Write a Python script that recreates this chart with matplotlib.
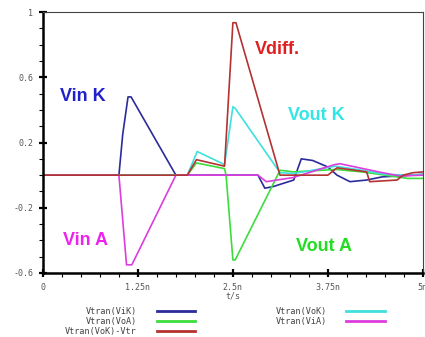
import matplotlib.pyplot as plt
from matplotlib.ticker import MultipleLocator

# Vin K
t_vik = [0, 1.0, 1.05, 1.12, 1.16, 1.75, 2.83, 2.92, 3.03, 3.3, 3.4, 3.55, 3.75, 3.87, 4.04, 4.26, 4.47, 4.7, 5.0]
v_vik = [0, 0, 0.25, 0.48, 0.48, 0, 0, -0.08, -0.07, -0.03, 0.1, 0.09, 0.05, 0, -0.04, -0.03, -0.01, -0.005, 0.005]
# Vin A
t_via = [0, 1.0, 1.1, 1.17, 1.75, 2.83, 2.94, 3.29, 3.84, 3.91, 4.47, 4.7, 5.0]
v_via = [0, 0, -0.55, -0.55, 0, 0, -0.04, -0.015, 0.065, 0.07, 0.015, -0.005, 0]
# Vout A
t_voa = [0, 1.9, 2.02, 2.39, 2.41, 2.5, 2.53, 3.12, 3.3, 3.85, 4.2, 4.5, 4.8, 5.0]
v_voa = [0, 0, 0.075, 0.04, 0, -0.52, -0.52, 0.03, 0.02, 0.035, 0.02, 0, -0.02, -0.02]
# Vout K
t_vok = [0, 1.9, 2.03, 2.39, 2.5, 2.53, 3.12, 3.3, 3.85, 4.2, 4.5, 4.8, 5.0]
v_vok = [0, 0, 0.145, 0.065, 0.42, 0.41, 0.015, 0.01, 0.055, 0.03, 0.005, 0.0, 0.005]
# Vdiff
t_vd = [0, 1.9, 2.02, 2.39, 2.5, 2.54, 3.12, 3.75, 3.87, 4.26, 4.3, 4.66, 4.74, 4.87, 5.0]
v_vd = [0, 0, 0.095, 0.055, 0.935, 0.935, 0, 0, 0.045, 0.02, -0.04, -0.03, 0, 0.015, 0.02]

xticks = [0, 1.25, 2.5, 3.75, 5]
xlabels = ['0', '1.25n', '2.5n', '3.75n', '5n']
yticks = [-0.6, -0.2, 0.2, 0.6, 1]
ylabels = ['-0.6', '-0.2', '0.2', '0.6', '1']

c_vik = '#2b2b9a'
c_voa = '#3ddc3d'
c_vok = '#3ee0e0'
c_via = '#dd3ddd'
c_vd = '#b43232'

fig = plt.figure(figsize=(4.25, 3.37), dpi=100)
ax = fig.add_axes([0.101, 0.19, 0.894, 0.774])

l_vik, = ax.plot(t_vik, v_vik, color=c_vik, lw=1.2, label='Vtran(ViK)')
l_voa, = ax.plot(t_voa, v_voa, color=c_voa, lw=1.2, label='Vtran(VoA)')
l_vok, = ax.plot(t_vok, v_vok, color=c_vok, lw=1.2, label='Vtran(VoK)')
l_via, = ax.plot(t_via, v_via, color=c_via, lw=1.2, label='Vtran(ViA)')
l_vd, = ax.plot(t_vd, v_vd, color=c_vd, lw=1.2, label='Vtran(VoK)-Vtr')

ax.set_xlim(0, 5)
ax.set_ylim(-0.6, 1)
ax.set_xticks(xticks)
ax.set_xticklabels(xlabels)
ax.set_yticks(yticks)
ax.set_yticklabels(ylabels)
ax.xaxis.set_minor_locator(MultipleLocator(0.25))
ax.yaxis.set_minor_locator(MultipleLocator(0.1))
ax.tick_params(which='major', direction='inout', length=6, width=1.6, labelsize=6,
               labelcolor='#555555', pad=4)
ax.tick_params(which='minor', direction='out', length=3, width=0.8)
for lab in ax.get_xticklabels() + ax.get_yticklabels():
    lab.set_family('DejaVu Sans Mono')
ax.spines['left'].set_linewidth(1.8)
ax.spines['bottom'].set_linewidth(1.8)
ax.spines['top'].set_linewidth(0.8)
ax.spines['right'].set_linewidth(0.8)
ax.spines['top'].set_color('#444444')
ax.spines['right'].set_color('#444444')
ax.set_xlabel('t/s', fontsize=6, color='#555555', family='DejaVu Sans Mono', labelpad=0)

lab_kw = dict(fontsize=13, fontweight='bold', family='Liberation Sans', ha='center', va='center')
ax.text(0.53, 0.48, 'Vin K', color='#2020cc', **lab_kw)
ax.text(0.566, -0.40, 'Vin A', color='#ee22ee', **lab_kw)
ax.text(3.085, 0.768, 'Vdiff.', color='#e02020', **lab_kw)
ax.text(3.6, 0.365, 'Vout K', color='#33e6e6', **lab_kw)
ax.text(3.70, -0.435, 'Vout A', color='#22dd22', **lab_kw)

leg = fig.legend([l_vik, l_voa, l_vd, l_vok, l_via],
                 ['Vtran(ViK)', 'Vtran(VoA)', 'Vtran(VoK)-Vtr', 'Vtran(VoK)', 'Vtran(ViA)'],
                 loc='upper left', bbox_to_anchor=(0.153, 0.088), ncol=2, markerfirst=False,
                 frameon=False, prop={'family': 'DejaVu Sans Mono', 'size': 6.1},
                 handlelength=4.5, handletextpad=2.35, labelspacing=0.1, columnspacing=9.5,
                 borderpad=0, borderaxespad=0)
for h in leg.legend_handles:
    h.set_linewidth(2)
for t in leg.get_texts():
    t.set_color('#444444')

fig.savefig('out.png', dpi=100)
